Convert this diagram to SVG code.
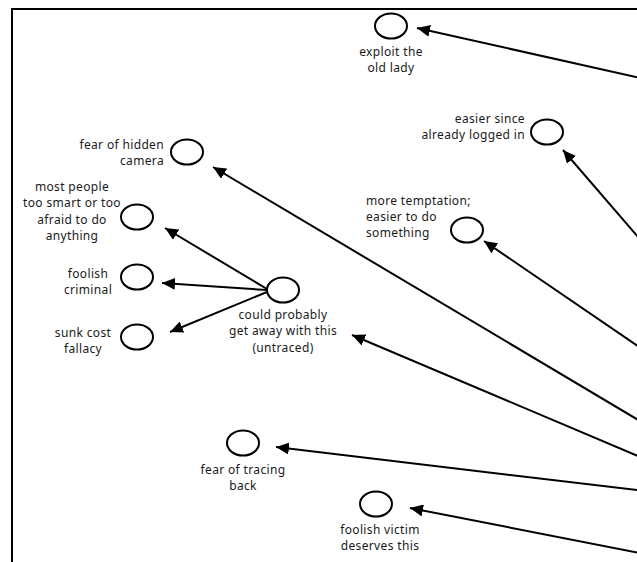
<svg xmlns="http://www.w3.org/2000/svg" width="637" height="562" viewBox="0 0 637 562">
<style>
.n ellipse{fill:#fff;stroke:#000;stroke-width:2}
.n text{font-family:"Noto Sans","Open Sans",sans-serif;font-size:12px;letter-spacing:0.35px;fill:#1a1a1a}
.m{text-anchor:middle}
.e{text-anchor:end}
.s{text-anchor:start}
#connectors line{stroke:#000;stroke-width:2;marker-end:url(#ah)}
</style>
<defs>
<marker id="ah" markerUnits="userSpaceOnUse" markerWidth="14" markerHeight="12" refX="13" refY="6" orient="auto">
<path d="M0,0 L13,6 L0,12 Z" fill="#000"/>
</marker>
</defs>
<rect width="637" height="562" fill="#fff"/>
<path d="M12,562 V9 H637" fill="none" stroke="#000" stroke-width="2"/>
<g id="connectors">
<line x1="645" y1="79" x2="417" y2="28"/>
<line x1="645" y1="245" x2="563" y2="150"/>
<line x1="645" y1="351" x2="484" y2="241"/>
<line x1="645" y1="424" x2="213" y2="167"/>
<line x1="645" y1="459" x2="352" y2="335"/>
<line x1="645" y1="491" x2="276" y2="447"/>
<line x1="645" y1="554" x2="410" y2="508"/>
<line x1="267" y1="289" x2="165" y2="228"/>
<line x1="267" y1="290" x2="162" y2="283"/>
<line x1="267" y1="292" x2="170" y2="332"/>
</g>
<g id="n-exploit" class="n"><ellipse cx="391" cy="26" rx="16" ry="12.5"/><text class="m" x="391" y="56">exploit the</text><text class="m" x="391" y="72">old lady</text></g>
<g id="n-logged" class="n"><ellipse cx="547" cy="132" rx="16" ry="12.5"/><text class="e" x="525" y="123">easier since</text><text class="e" x="525" y="139">already logged in</text></g>
<g id="n-temptation" class="n"><ellipse cx="467" cy="230" rx="16" ry="12.5"/><text class="s" x="366" y="205">more temptation;</text><text class="s" x="366" y="221">easier to do</text><text class="s" x="366" y="237">something</text></g>
<g id="n-camera" class="n"><ellipse cx="187" cy="152" rx="16" ry="12.5"/><text class="e" x="164" y="149">fear of hidden</text><text class="e" x="164" y="165">camera</text></g>
<g id="n-mostpeople" class="n"><ellipse cx="137" cy="217" rx="16" ry="12.5"/><text class="m" x="72" y="191">most people</text><text class="m" x="72" y="207">too smart or too</text><text class="m" x="72" y="224">afraid to do</text><text class="m" x="72" y="240">anything</text></g>
<g id="n-criminal" class="n"><ellipse cx="137" cy="277" rx="16" ry="12.5"/><text class="m" x="88" y="278">foolish</text><text class="m" x="88" y="294">criminal</text></g>
<g id="n-sunkcost" class="n"><ellipse cx="137" cy="337" rx="16" ry="12.5"/><text class="m" x="83" y="337">sunk cost</text><text class="m" x="83" y="353">fallacy</text></g>
<g id="n-getaway" class="n"><ellipse cx="283" cy="290" rx="16" ry="12.5"/><text class="m" x="283" y="319">could probably</text><text class="m" x="283" y="335">get away with this</text><text class="m" x="283" y="352">(untraced)</text></g>
<g id="n-tracing" class="n"><ellipse cx="243" cy="443" rx="16" ry="12.5"/><text class="m" x="243" y="474">fear of tracing</text><text class="m" x="243" y="490">back</text></g>
<g id="n-victim" class="n"><ellipse cx="376" cy="504" rx="16" ry="12.5"/><text class="m" x="380" y="534">foolish victim</text><text class="m" x="380" y="550">deserves this</text></g>
</svg>
